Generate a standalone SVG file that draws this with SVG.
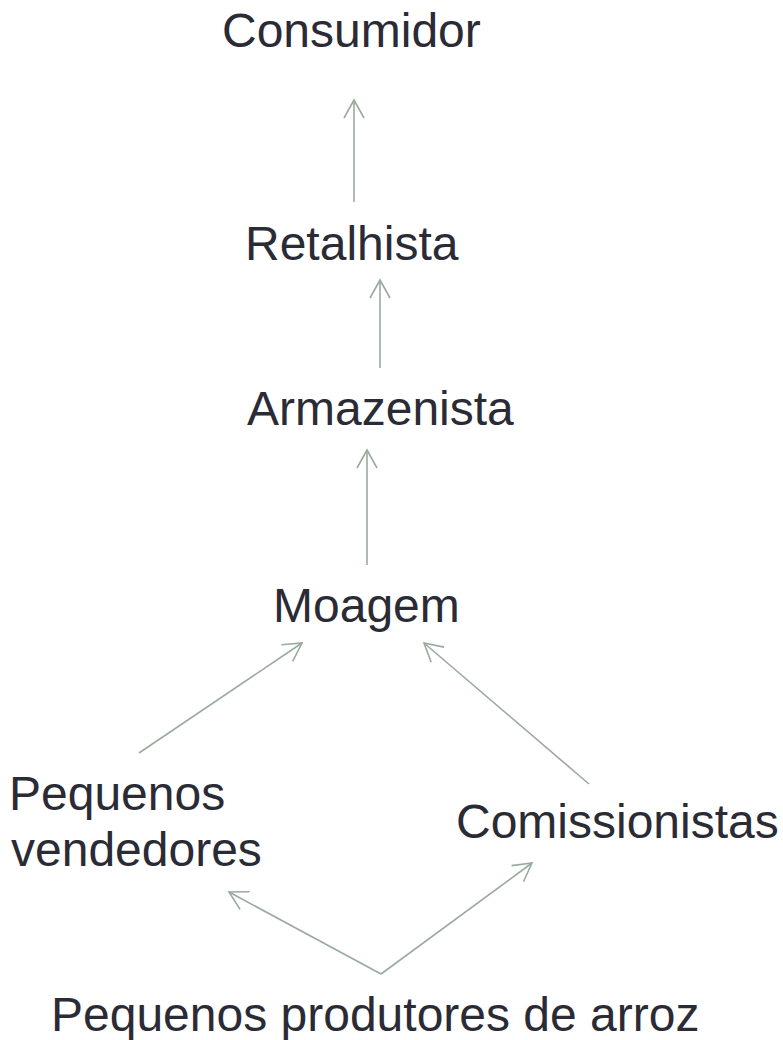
<svg xmlns="http://www.w3.org/2000/svg" width="783" height="1040" viewBox="0 0 783 1040">
<style>
.t{font-family:"Liberation Sans",Arial,sans-serif;font-size:48px;fill:#2b2b36}
.c{stroke:#9aaa9f;stroke-width:1.6;fill:none}
</style>
<defs>
<marker id="ah" markerUnits="userSpaceOnUse" markerWidth="40" markerHeight="40" viewBox="-20 -20 40 40" refX="0" refY="0" orient="auto" overflow="visible">
<path d="M-18,-10 L0,0 L-18,10" fill="none" stroke="#9aaa9f" stroke-width="1.6"/>
</marker>
</defs>
<rect width="783" height="1040" fill="#ffffff"/>
<g id="connectors">
<line class="c" x1="354" y1="202" x2="354" y2="100" marker-end="url(#ah)"/>
<line class="c" x1="380" y1="368" x2="380" y2="280" marker-end="url(#ah)"/>
<line class="c" x1="367" y1="565" x2="367" y2="450" marker-end="url(#ah)"/>
<line class="c" x1="139" y1="753" x2="302" y2="643" marker-end="url(#ah)"/>
<line class="c" x1="589" y1="784" x2="424" y2="643" marker-end="url(#ah)"/>
<line class="c" x1="381" y1="974" x2="229" y2="892" marker-end="url(#ah)"/>
<line class="c" x1="381" y1="974" x2="532" y2="863" marker-end="url(#ah)"/>
</g>
<g id="consumidor"><text class="t" x="222" y="47">Consumidor</text></g>
<g id="retalhista"><text class="t" x="245" y="260">Retalhista</text></g>
<g id="armazenista"><text class="t" x="247" y="425">Armazenista</text></g>
<g id="moagem"><text class="t" x="273" y="622">Moagem</text></g>
<g id="pequenos-vendedores"><text class="t" x="9" y="810">Pequenos</text><text class="t" x="11" y="866">vendedores</text></g>
<g id="comissionistas"><text class="t" x="456" y="838">Comissionistas</text></g>
<g id="produtores"><text class="t" x="51" y="1031">Pequenos produtores de arroz</text></g>
</svg>
